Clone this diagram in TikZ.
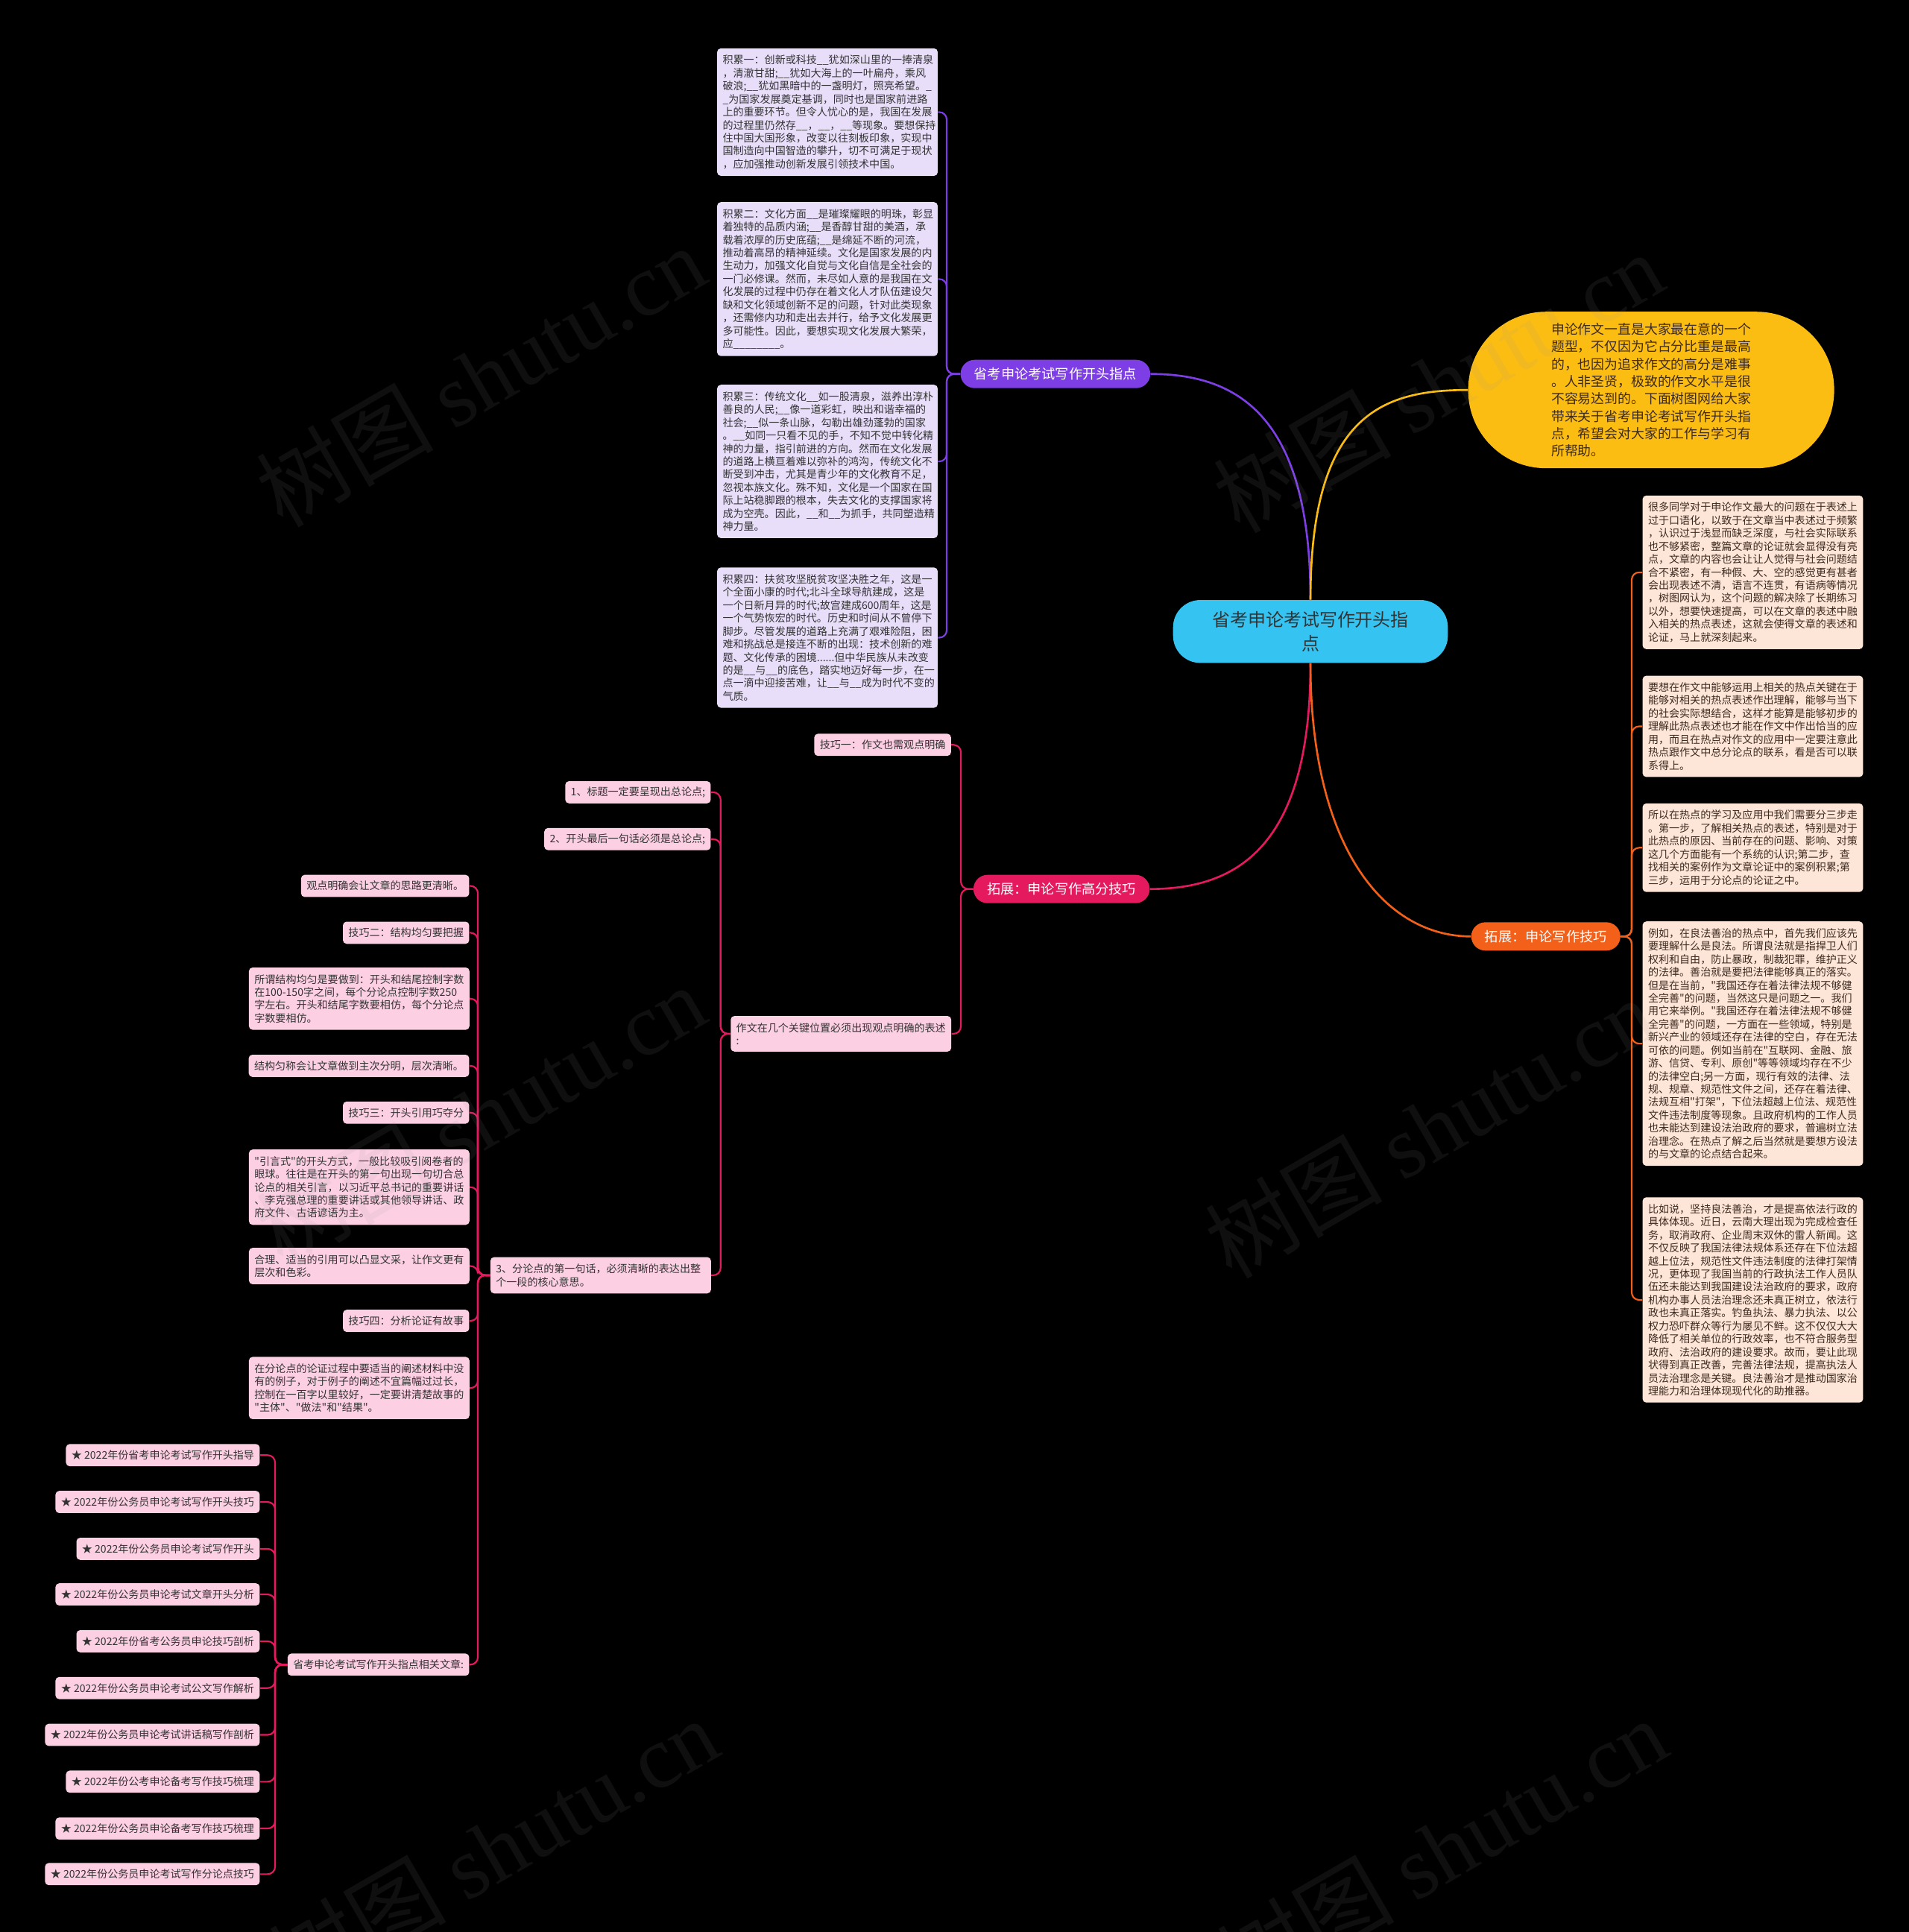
\documentclass[tikz,border=0pt]{standalone}
\usepackage{fontspec}
\setmainfont{Noto Sans CJK SC}[Ligatures=TeXOff]
\newfontfamily\wmfont{Liberation Serif}
\definecolor{cyanroot}{HTML}{35C4F2}
\definecolor{yel}{HTML}{FBBD12}
\definecolor{purp}{HTML}{7D3EE6}
\definecolor{crim}{HTML}{E5195E}
\definecolor{oran}{HTML}{F2601A}
\definecolor{lav}{HTML}{E8DEFA}
\definecolor{peach}{HTML}{FDE5D7}
\definecolor{pinkf}{HTML}{FCCFE3}
\definecolor{txt}{HTML}{333333}
\definecolor{brn}{HTML}{3D2A20}
\definecolor{wmc}{HTML}{9A9A9A}
\tikzset{
  smallfont/.style={font=\fontsize{8.5}{10.55}\selectfont},
  blk/.style={fill=#1, rounded corners=3pt, text width=170pt, align=left,
    inner xsep=4.5pt, inner ysep=5.5pt, smallfont, text=txt},
  sm/.style={fill=#1, rounded corners=3pt, inner xsep=4.5pt, inner ysep=0pt,
    minimum height=18pt, smallfont, text=txt, anchor=east},
  pill/.style={fill=#1, rounded corners=11.5pt, minimum height=23pt, inner xsep=11pt,
    inner ysep=0pt, text=white, font=\fontsize{11}{13}\selectfont},
  rootn/.style={fill=cyanroot, rounded corners=22pt, minimum width=223pt, minimum height=51pt,
    align=center, text=txt, font=\fontsize{14.5}{19}\selectfont},
  intro/.style={fill=yel, rounded corners=63pt, minimum width=297pt, minimum height=127pt,
    align=left, text=brn, font=\fontsize{10.8}{14.1}\selectfont},
  mainline/.style={line width=1.6pt, #1},
  subl/.style={line width=1.3pt, rounded corners=6pt, #1},
  wm/.style={rotate=30, text=wmc, opacity=0.1, font=\fontsize{72}{80}\selectfont}
}
\begin{document}
\begin{tikzpicture}[x=1pt,y=-1pt]
\useasboundingbox (0,0) rectangle (1549,1568);
\fill[black] (0,0) rectangle (1549,1568);

% ---------- nodes ----------
\node[rootn] (root) at (1063.5,512.5) {省考申论考试写作开头指\\点};
\node[intro] (intro) at (1340,316.5) {申论作文一直是大家最在意的一个\\题型，不仅因为它占分比重是最高\\的，也因为追求作文的高分是难事\\。人非圣贤，极致的作文水平是很\\不容易达到的。下面树图网给大家\\带来关于省考申论考试写作开头指\\点，希望会对大家的工作与学习有\\所帮助。};
\node[pill=purp] (pn) at (856.5,303.5) {省考申论考试写作开头指点};
\node[pill=crim] (cn) at (861.5,721.5) {拓展：申论写作高分技巧};
\node[pill=oran] (on) at (1254.5,760) {拓展：申论写作技巧};

% purple blocks
\node[blk=lav] (b1) at (671.5,91) {积累一：创新或科技\_\_犹如深山里的一捧清泉\\，清澈甘甜;\_\_犹如大海上的一叶扁舟，乘风\\破浪;\_\_犹如黑暗中的一盏明灯，照亮希望。\_\\\_为国家发展奠定基调，同时也是国家前进路\\上的重要环节。但令人忧心的是，我国在发展\\的过程里仍然存\_\_，\_\_，\_\_等现象。要想保持\\住中国大国形象，改变以往刻板印象，实现中\\国制造向中国智造的攀升，切不可满足于现状\\，应加强推动创新发展引领技术中国。};
\node[blk=lav] (b2) at (671.5,226.5) {积累二：文化方面\_\_是璀璨耀眼的明珠，彰显\\着独特的品质内涵;\_\_是香醇甘甜的美酒，承\\载着浓厚的历史底蕴;\_\_是绵延不断的河流，\\推动着高昂的精神延续。文化是国家发展的内\\生动力，加强文化自觉与文化自信是全社会的\\一门必修课。然而，未尽如人意的是我国在文\\化发展的过程中仍存在着文化人才队伍建设欠\\缺和文化领域创新不足的问题，针对此类现象\\，还需修内功和走出去并行，给予文化发展更\\多可能性。因此，要想实现文化发展大繁荣，\\应\_\_\_\_\_\_\_\_。};
\node[blk=lav] (b3) at (671.5,374.5) {积累三：传统文化\_\_如一股清泉，滋养出淳朴\\善良的人民;\_\_像一道彩虹，映出和谐幸福的\\社会;\_\_似一条山脉，勾勒出雄劲蓬勃的国家\\。\_\_如同一只看不见的手，不知不觉中转化精\\神的力量，指引前进的方向。然而在文化发展\\的道路上横亘着难以弥补的鸿沟，传统文化不\\断受到冲击，尤其是青少年的文化教育不足，\\忽视本族文化。殊不知，文化是一个国家在国\\际上站稳脚跟的根本，失去文化的支撑国家将\\成为空壳。因此，\_\_和\_\_为抓手，共同塑造精\\神力量。};
\node[blk=lav] (b4) at (671.5,517.5) {积累四：扶贫攻坚脱贫攻坚决胜之年，这是一\\个全面小康的时代;北斗全球导航建成，这是\\一个日新月异的时代;故宫建成600周年，这是\\一个气势恢宏的时代。历史和时间从不曾停下\\脚步。尽管发展的道路上充满了艰难险阻，困\\难和挑战总是接连不断的出现：技术创新的难\\题、文化传承的困境......但中华民族从未改变\\的是\_\_与\_\_的底色，踏实地迈好每一步，在一\\点一滴中迎接苦难，让\_\_与\_\_成为时代不变的\\气质。};

% peach blocks
\node[blk=peach, text=brn] (p1) at (1422.5,464.5) {很多同学对于申论作文最大的问题在于表述上\\过于口语化，以致于在文章当中表述过于频繁\\，认识过于浅显而缺乏深度，与社会实际联系\\也不够紧密，整篇文章的论证就会显得没有亮\\点，文章的内容也会让让人觉得与社会问题结\\合不紧密，有一种假、大、空的感觉更有甚者\\会出现表述不清，语言不连贯，有语病等情况\\，树图网认为，这个问题的解决除了长期练习\\以外，想要快速提高，可以在文章的表述中融\\入相关的热点表述，这就会使得文章的表述和\\论证，马上就深刻起来。};
\node[blk=peach, text=brn] (p2) at (1422.5,589.5) {要想在作文中能够运用上相关的热点关键在于\\能够对相关的热点表述作出理解，能够与当下\\的社会实际想结合，这样才能算是能够初步的\\理解此热点表述也才能在作文中作出恰当的应\\用，而且在热点对作文的应用中一定要注意此\\热点跟作文中总分论点的联系，看是否可以联\\系得上。};
\node[blk=peach, text=brn] (p3) at (1422.5,688) {所以在热点的学习及应用中我们需要分三步走\\。第一步，了解相关热点的表述，特别是对于\\此热点的原因、当前存在的问题、影响、对策\\这几个方面能有一个系统的认识;第二步，查\\找相关的案例作为文章论证中的案例积累;第\\三步，运用于分论点的论证之中。};
\node[blk=peach, text=brn] (p4) at (1422.5,847) {例如，在良法善治的热点中，首先我们应该先\\要理解什么是良法。所谓良法就是指捍卫人们\\权利和自由，防止暴政，制裁犯罪，维护正义\\的法律。善治就是要把法律能够真正的落实。\\但是在当前，"我国还存在着法律法规不够健\\全完善"的问题，当然这只是问题之一。我们\\用它来举例。"我国还存在着法律法规不够健\\全完善"的问题，一方面在一些领域，特别是\\新兴产业的领域还存在法律的空白，存在无法\\可依的问题。例如当前在"互联网、金融、旅\\游、信贷、专利、原创"等等领域均存在不少\\的法律空白;另一方面，现行有效的法律、法\\规、规章、规范性文件之间，还存在着法律、\\法规互相"打架"，下位法超越上位法、规范性\\文件违法制度等现象。且政府机构的工作人员\\也未能达到建设法治政府的要求，普遍树立法\\治理念。在热点了解之后当然就是要想方设法\\的与文章的论点结合起来。};
\node[blk=peach, text=brn] (p5) at (1422.5,1055) {比如说，坚持良法善治，才是提高依法行政的\\具体体现。近日，云南大理出现为完成检查任\\务，取消政府、企业周末双休的雷人新闻。这\\不仅反映了我国法律法规体系还存在下位法超\\越上位法，规范性文件违法制度的法律打架情\\况，更体现了我国当前的行政执法工作人员队\\伍还未能达到我国建设法治政府的要求，政府\\机构办事人员法治理念还未真正树立，依法行\\政也未真正落实。钓鱼执法、暴力执法、以公\\权力恐吓群众等行为屡见不鲜。这不仅仅大大\\降低了相关单位的行政效率，也不符合服务型\\政府、法治政府的建设要求。故而，要让此现\\状得到真正改善，完善法律法规，提高执法人\\员法治理念是关键。良法善治才是推动国家治\\理能力和治理体现现代化的助推器。};

% crimson branch
\node[sm=pinkf] (j1) at (772,604.5) {技巧一：作文也需观点明确};
\node[blk=pinkf] (zw) at (682.5,839) {作文在几个关键位置必须出现观点明确的表述\\:};
\node[sm=pinkf] (t1) at (577,643) {1、标题一定要呈现出总论点;};
\node[sm=pinkf] (t2) at (577,681) {2、开头最后一句话必须是总论点;};
\node[blk=pinkf] (t3) at (487.5,1035) {3、分论点的第一句话，必须清晰的表达出整\\个一段的核心意思。};

\node[sm=pinkf] (l1) at (381,719) {观点明确会让文章的思路更清晰。};
\node[sm=pinkf] (l2) at (381,757) {技巧二：结构均匀要把握};
\node[blk=pinkf] (l3) at (291.5,810.5) {所谓结构均匀是要做到：开头和结尾控制字数\\在100-150字之间，每个分论点控制字数250\\字左右。开头和结尾字数要相仿，每个分论点\\字数要相仿。};
\node[sm=pinkf] (l4) at (381,865) {结构匀称会让文章做到主次分明，层次清晰。};
\node[sm=pinkf] (l5) at (381,903) {技巧三：开头引用巧夺分};
\node[blk=pinkf] (l6) at (291.5,963.5) {"引言式"的开头方式，一般比较吸引阅卷者的\\眼球。往往是在开头的第一句出现一句切合总\\论点的相关引言，以习近平总书记的重要讲话\\、李克强总理的重要讲话或其他领导讲话、政\\府文件、古语谚语为主。};
\node[blk=pinkf] (l7) at (291.5,1027.5) {合理、适当的引用可以凸显文采，让作文更有\\层次和色彩。};
\node[sm=pinkf] (l8) at (381,1072) {技巧四：分析论证有故事};
\node[blk=pinkf] (l9) at (291.5,1126.5) {在分论点的论证过程中要适当的阐述材料中没\\有的例子，对于例子的阐述不宜篇幅过过长，\\控制在一百字以里较好，一定要讲清楚故事的\\"主体"、"做法"和"结果"。};
\node[sm=pinkf] (l10) at (381,1351) {省考申论考试写作开头指点相关文章:};

\node[sm=pinkf] (s1) at (211,1181) {★ 2022年份省考申论考试写作开头指导};
\node[sm=pinkf] (s2) at (211,1219) {★ 2022年份公务员申论考试写作开头技巧};
\node[sm=pinkf] (s3) at (211,1257) {★ 2022年份公务员申论考试写作开头};
\node[sm=pinkf] (s4) at (211,1294) {★ 2022年份公务员申论考试文章开头分析};
\node[sm=pinkf] (s5) at (211,1332) {★ 2022年份省考公务员申论技巧剖析};
\node[sm=pinkf] (s6) at (211,1370) {★ 2022年份公务员申论考试公文写作解析};
\node[sm=pinkf] (s7) at (211,1408) {★ 2022年份公务员申论考试讲话稿写作剖析};
\node[sm=pinkf] (s8) at (211,1446) {★ 2022年份公考申论备考写作技巧梳理};
\node[sm=pinkf] (s9) at (211,1484) {★ 2022年份公务员申论备考写作技巧梳理};
\node[sm=pinkf] (s10) at (211,1521) {★ 2022年份公务员申论考试写作分论点技巧};

% ---------- connectors ----------
\draw[mainline=purp] (pn.east) .. controls +(70,0) and +(0,-150) .. (root.north);
\draw[mainline=yel] (root.north) .. controls +(0,-150) and +(-70,0) .. (intro.west);
\draw[mainline=crim] (root.south) .. controls +(0,150) and +(70,0) .. (cn.east);
\draw[mainline=oran] (root.south) .. controls +(0,150) and +(-70,0) .. (on.west);
\foreach \c in {b1,b2,b3,b4} \draw[subl=purp] (pn.west) -- ++(-11,0) |- (\c.east);
\foreach \c in {p1,p2,p3,p4,p5} \draw[subl=oran] (on.east) -- ++(9,0) |- (\c.west);
\foreach \c in {j1,zw} \draw[subl=crim] (cn.west) -- ++(-10,0) |- (\c.east);
\foreach \c in {t1,t2,t3} \draw[subl=crim] (zw.west) -- ++(-8,0) |- (\c.east);
\foreach \c in {l1,l2,l3,l4,l5,l6,l7,l8,l9,l10} \draw[subl=crim] (t3.west) -- ++(-10,0) |- (\c.east);
\foreach \c in {s1,s2,s3,s4,s5,s6,s7,s8,s9,s10} \draw[subl=crim] (l10.west) -- ++(-10,0) |- (\c.east);

% ---------- watermarks ----------
\foreach \p/\q in {390/305, 1167/310, 390/905, 1160/915, 400/1500, 1170/1500}
  \node[wm] (w\p\q) at (\p,\q) {树图 {\wmfont shutu.cn}};
\end{tikzpicture}
\end{document}
